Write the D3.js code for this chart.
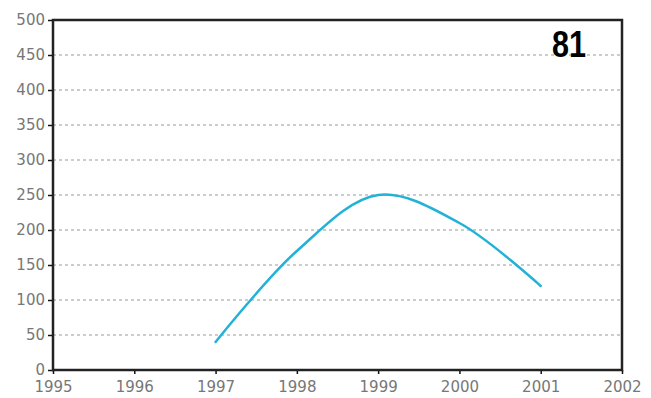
<!DOCTYPE html>
<html>
<head>
<meta charset="utf-8">
<script src="https://d3js.org/d3.v7.min.js"></script>
<style>
  html, body { margin: 0; padding: 0; background: #fff; }
  svg { display: block; }
</style>
</head>
<body>
<svg id="chart" width="651" height="398"></svg>
<script>
// Series: yearly values
const years = [1997, 1998, 1999, 2000, 2001];
const values = [40, 170, 250, 210, 120];
// Axis ticks
const xTicks = [1995, 1996, 1997, 1998, 1999, 2000, 2001, 2002];
const yTicks = [0, 50, 100, 150, 200, 250, 300, 350, 400, 450, 500];
const panelLabel = "81";

const svg = d3.select("#chart");
const m = { left: 53, right: 622, top: 20, bottom: 370 };

const x = d3.scaleLinear().domain([1995, 2002]).range([m.left, m.right]);
const y = d3.scaleLinear().domain([0, 500]).range([m.bottom, m.top]);

// Dashed horizontal gridlines
svg.append("g")
  .selectAll("line")
  .data(yTicks.filter(d => d > 0 && d < 500))
  .join("line")
  .attr("x1", m.left).attr("x2", m.right)
  .attr("y1", d => y(d)).attr("y2", d => y(d))
  .attr("stroke", "#999")
  .attr("stroke-width", 1)
  .attr("stroke-dasharray", "3,3");

const labelFont = "DejaVu Sans, Verdana, sans-serif";

// Y axis
const yAxis = svg.append("g")
  .attr("transform", `translate(${m.left},0)`)
  .call(d3.axisLeft(y).tickValues(yTicks).tickSize(5).tickPadding(3).tickFormat(d3.format("d")));
yAxis.select(".domain").remove();
yAxis.selectAll(".tick line").attr("stroke", "#111").attr("stroke-width", 1.5);
yAxis.selectAll(".tick text")
  .attr("font-family", labelFont)
  .attr("font-size", 15)
  .attr("fill", "#777");

// X axis
const xAxis = svg.append("g")
  .attr("transform", `translate(0,${m.bottom})`)
  .call(d3.axisBottom(x).tickValues(xTicks).tickSize(4).tickPadding(7).tickFormat(d3.format("d")));
xAxis.select(".domain").remove();
xAxis.selectAll(".tick line").attr("stroke", "#111").attr("stroke-width", 1.5);
xAxis.selectAll(".tick text")
  .attr("font-family", labelFont)
  .attr("font-size", 15)
  .attr("fill", "#777");

// Plot frame
svg.append("rect")
  .attr("x", m.left).attr("y", m.top)
  .attr("width", m.right - m.left).attr("height", m.bottom - m.top)
  .attr("fill", "none")
  .attr("stroke", "#222")
  .attr("stroke-width", 2.5);

// Smoothed series line
const line = d3.line()
  .x((d, i) => x(years[i]))
  .y(d => y(d))
  .curve(d3.curveCatmullRom.alpha(0.5));

svg.append("path")
  .datum(values)
  .attr("d", line)
  .attr("fill", "none")
  .attr("stroke", "#22b2d8")
  .attr("stroke-width", 2.5)
  .attr("stroke-linecap", "round");

// Panel number
svg.append("text")
  .attr("x", 552).attr("y", 57)
  .attr("font-family", "Liberation Sans, Arial, sans-serif")
  .attr("font-weight", "bold")
  .attr("font-size", 37)
  .attr("textLength", 34)
  .attr("lengthAdjust", "spacingAndGlyphs")
  .attr("fill", "#000")
  .text(panelLabel);
</script>
</body>
</html>
